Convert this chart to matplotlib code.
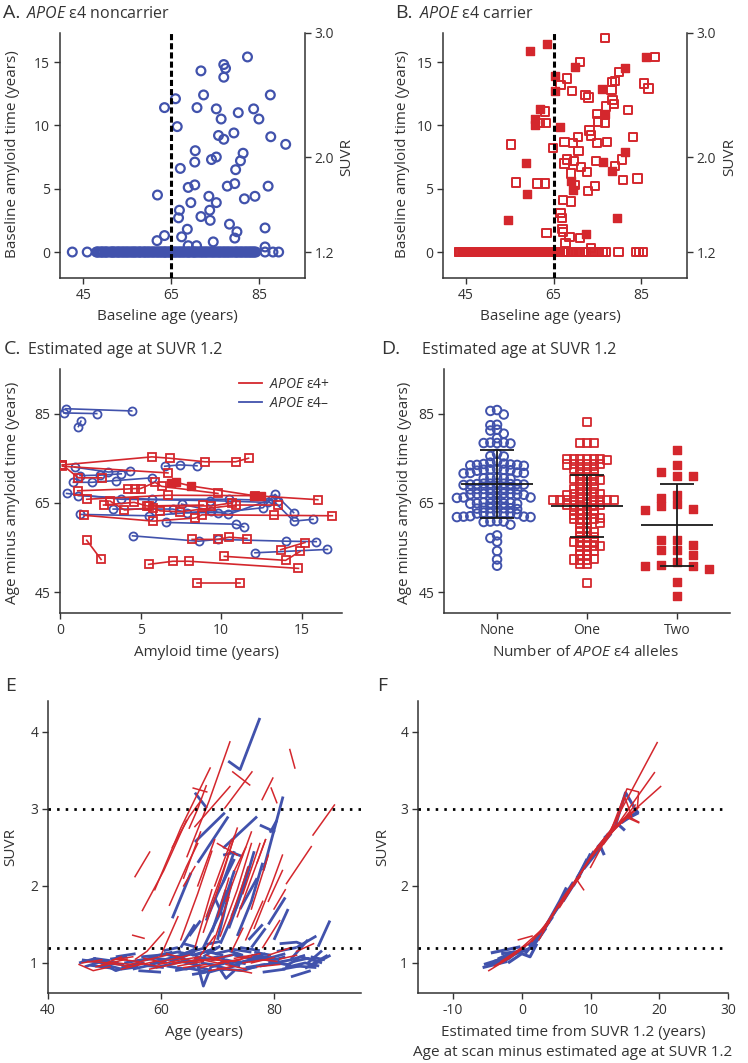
import numpy as np
import matplotlib
matplotlib.use("Agg")
import matplotlib.pyplot as plt
from matplotlib.lines import Line2D

plt.rcParams['font.family'] = ['Open Sans', 'DejaVu Sans']
plt.rcParams['mathtext.fontset'] = 'custom'
plt.rcParams['mathtext.rm'] = 'Open Sans'
plt.rcParams['mathtext.it'] = 'Open Sans:italic'
plt.rcParams['axes.unicode_minus'] = False

TXT = '#333333'
BLUE = '#4152AC'
RED = '#D4272D'
W, H = 748, 1063

# ---------------- data ----------------
# A: APOE e4 noncarriers, baseline age vs baseline amyloid time
a_age = [82.4, 71.8, 77.0, 77.4, 77.0, 72.4, 66.0, 87.6, 63.5, 70.9, 75.3, 83.8, 80.3, 76.4, 85.0,
         66.4, 79.3, 75.8, 77.0, 87.7, 91.1, 70.5, 81.4, 75.3, 74.2, 80.8, 70.4, 67.1, 79.7, 68.9,
         70.4, 77.8, 79.5, 87.1, 61.9, 73.6, 84.1, 81.7, 69.5, 75.3, 66.9, 73.8, 66.7, 71.8, 73.9,
         78.3, 68.7, 86.4, 80.0, 63.5, 67.4, 61.8, 79.5, 74.6, 68.9, 70.8, 86.4]
a_time = [15.4, 14.3, 14.8, 14.5, 13.8, 12.4, 12.1, 12.4, 11.4, 11.4, 11.3, 11.3, 11.0, 10.5, 10.5,
          9.9, 9.4, 9.2, 8.9, 9.1, 8.5, 8.0, 7.8, 7.5, 7.3, 7.2, 7.1, 6.6, 6.5, 5.1,
          5.3, 5.2, 5.4, 5.2, 4.5, 4.4, 4.4, 4.2, 3.9, 3.9, 3.3, 3.3, 2.7, 2.8, 2.5,
          2.2, 1.8, 1.9, 1.6, 1.3, 1.2, 0.9, 1.1, 0.8, 0.5, 0.5, 0.4]
a_zero_age = [42.5, 45.9, 48.0, 48.4, 49.1, 49.5, 50.3, 50.6, 51.4, 51.8, 52.3, 53.1, 53.4, 54.2,
              54.5, 55.3, 55.6, 56.4, 56.9, 57.2, 58.0, 58.3, 59.1, 59.4, 60.2, 60.5, 61.3, 61.6,
              62.4, 62.7, 63.2, 63.8, 64.1, 64.9, 65.2, 65.8, 66.3, 66.6, 67.4, 67.7, 68.5, 68.8,
              69.2, 69.9, 70.3, 70.8, 71.4, 71.7, 72.5, 72.8, 73.3, 73.9, 74.2, 75.0, 75.3, 75.9,
              76.4, 76.7, 77.5, 77.8, 78.3, 78.9, 79.2, 80.0, 80.3, 80.9, 81.4, 81.7, 82.5, 82.8,
              83.3, 83.8, 84.3, 86.4, 88.2, 89.5,
              48.2, 48.8, 49.3, 49.9, 50.1, 51.1, 51.6, 52.0, 52.7, 52.9, 53.7, 54.0, 54.8, 55.0,
              55.9, 56.2, 56.7, 57.6, 57.8, 58.7, 58.9, 59.7, 59.9, 60.8, 61.0, 61.9, 62.1, 62.9,
              63.5, 63.6, 64.4, 64.6, 65.5, 66.0, 66.9, 67.1, 67.9, 68.2, 69.0, 69.5, 70.1, 70.5,
              71.1, 72.0, 72.2, 73.0, 73.6, 74.5, 74.7, 75.6, 76.1, 77.0, 77.2, 78.0, 78.6, 79.6,
              79.8, 80.6, 81.1, 82.0, 82.2, 83.0, 83.5, 84.0]

# B: APOE e4 carriers (filled = two alleles)
b_fill_age = [63.5, 59.7, 86.2, 69.9, 81.3, 65.4, 65.4, 76.1, 61.9, 76.7, 60.7, 60.7, 66.4, 58.6,
              81.3, 76.4, 78.4, 68.9, 69.5, 58.9, 54.6, 79.5, 72.4]
b_fill_time = [16.4, 15.9, 15.4, 14.6, 14.5, 13.9, 12.7, 12.9, 11.3, 10.9, 10.5, 10.0, 9.9, 7.0,
               7.9, 7.1, 6.4, 5.6, 4.9, 4.6, 2.5, 2.7, 1.4]
b_open_age = [76.8, 88.2, 71.1, 68.1, 66.6, 69.2, 72.3, 73.0, 78.3, 79.1, 80.0, 85.6, 86.7, 78.2,
              78.5, 78.8, 77.0, 82.0, 74.9, 75.1, 76.7, 63.0, 63.3, 61.8, 55.2, 64.9, 67.5, 69.5,
              70.5, 70.7, 73.2, 73.6, 74.9, 77.2, 83.1, 68.1, 67.5, 69.6, 71.3, 74.7, 72.7, 69.0,
              79.1, 80.7, 80.9, 84.2, 56.4, 61.3, 63.0, 69.9, 74.4, 72.8, 67.2, 69.0, 66.6, 66.9,
              67.0, 67.2, 63.4, 68.6, 67.7, 71.1, 73.6]
b_open_time = [16.9, 15.4, 15.0, 13.7, 13.2, 12.7, 12.4, 12.2, 13.4, 13.5, 14.2, 13.3, 12.9, 12.8,
               12.0, 11.7, 11.5, 11.2, 10.9, 10.3, 10.2, 11.1, 10.2, 10.2, 8.5, 8.2, 8.7, 8.6,
               9.1, 8.0, 9.6, 9.2, 8.6, 8.7, 9.1, 7.3, 7.0, 7.2, 6.7, 7.2, 6.3, 6.2,
               6.8, 7.3, 5.7, 5.8, 5.5, 5.4, 5.4, 5.3, 5.2, 4.8, 4.1, 4.0, 3.1, 2.7,
               1.8, 1.6, 1.5, 1.2, 0.7, 1.1, 0.3]
b_zero_age = [43.3, 43.7, 44.1, 44.6, 45.0, 45.3, 45.8, 46.1, 46.4, 47.0, 47.3, 47.7, 48.1, 48.6,
              48.9, 49.4, 49.7, 50.3, 50.6, 50.9, 51.2, 51.8, 52.1, 52.5, 52.9, 53.4, 53.7, 54.0,
              54.3, 54.8, 55.1, 55.5, 56.0, 56.3, 56.6, 57.1, 57.5, 57.8, 58.2, 58.6, 59.1, 59.4,
              59.8, 60.2, 60.7, 61.0, 61.3, 61.6, 62.0, 62.4, 62.8, 63.3, 63.6, 63.9, 64.2, 64.8,
              65.2, 65.9, 66.5, 67.0, 67.6, 68.3, 68.9, 69.4, 70.2, 71.0, 71.6, 72.3, 73.0, 73.9,
              74.6, 75.4, 76.2, 77.0, 79.8, 83.8, 84.5, 85.5,
              43.5, 44.3, 44.8, 45.6, 46.7, 47.5, 48.3, 49.1, 49.9, 50.7, 51.5, 52.3, 53.1, 53.9,
              54.6, 55.3, 56.1, 56.9, 57.7, 58.4, 59.2, 60.0, 60.5, 61.1, 61.8, 62.6, 63.1, 64.0,
              64.5, 65.5, 66.2, 67.3, 68.0, 69.1, 70.6, 72.0]
suvr_tick_time = [0, 7.5, 17.29]
suvr_tick_label = ['1.2', '2.0', '3.0']

# C: amyloid time vs age minus amyloid time, per participant
c_blue_t = [[0.35, 4.45], [0.25, 2.28], [1.14, 1.30], [0.9, 3.0, 4.35], [1.24, 2.5, 3.8],
            [6.5, 7.45, 8.5], [0.83, 1.97, 3.5, 5.7], [0.41, 3.8, 9.3, 12.9],
            [1.14, 5.7, 10.5, 13.5], [1.24, 5.5, 9.4],
            [3.3, 7.0, 7.9, 9.8, 12.6, 13.35, 14.5], [6.6, 10.9, 11.4],
            [7.55, 10.45, 13.15, 14.5, 15.7], [4.5, 8.6, 9.8, 14.0, 15.9], [12.1, 16.6]]
c_blue_age = [[86.1, 85.6], [85.15, 85.0], [82.1, 83.3], [73.0, 71.9, 72.2], [71.1, 71.2, 71.5],
              [73.2, 73.5, 73.3], [69.6, 69.6, 70.0, 70.6], [67.1, 65.8, 65.5, 65.1],
              [66.6, 65.8, 65.8, 65.5], [62.4, 62.1, 63.2],
              [63.6, 63.6, 62.8, 62.8, 63.9, 66.9, 62.8], [60.6, 60.2, 59.6],
              [64.7, 62.4, 65.8, 60.9, 61.3], [57.6, 56.4, 56.8, 56.4, 56.3], [53.8, 54.55]]
c_red_t = [[0.15, 5.7, 6.8, 9.0, 10.9, 11.7], [0.15, 6.7], [0.15, 1.14, 2.6],
           [1.1, 4.2, 4.65, 5.0, 5.9, 6.3, 9.8], [1.66, 6.7, 12.1, 16.0],
           [2.7, 4.6, 5.4, 8.9], [3.1, 4.0, 5.8, 6.2, 7.45, 10.9, 13.5],
           [1.5, 5.8, 8.4, 8.8, 13.3, 16.9], [1.66, 2.55], [8.2, 9.8, 10.5, 11.6],
           [13.7, 15.2], [10.2, 14.0, 14.9], [5.5, 7.0, 8.0, 14.8], [8.5, 11.2],
           [5.5, 9.4, 10.7]]
c_red_age = [[73.5, 75.3, 75.0, 74.2, 74.2, 75.0], [73.2, 71.7], [73.5, 70.6, 70.6],
             [67.7, 68.1, 68.2, 68.2, 69.6, 68.7, 67.1], [65.8, 66.7, 66.6, 65.7],
             [64.5, 65.1, 64.3, 64.5], [65.4, 63.4, 63.9, 63.2, 63.0, 64.5, 64.5],
             [62.2, 60.9, 61.6, 62.3, 62.2, 62.1], [56.6, 52.3], [56.8, 56.8, 57.3, 57.0],
             [54.5, 56.1], [53.0, 52.1, 54.1], [51.2, 51.9, 51.9, 50.3], [47.0, 47.0],
             [64.3, 64.3, 65.0]]
c_two_t = [[6.9, 7.2, 8.1, 12.05, 12.5]]
c_two_age = [[69.4, 69.6, 68.8, 66.6, 66.6]]

# D: age minus amyloid time by number of APOE e4 alleles
d_groups = ['None', 'One', 'Two']
d_none = [85.8, 85.6, 84.8, 82.5, 82.4, 81.4, 81.2, 80.5, 79.5, 78.5, 78.4, 78.3, 78.5, 78.4,
          76.0, 75.5, 75.4, 74.2, 74.0, 73.8, 73.5, 73.6, 73.4, 73.5, 73.7, 73.3, 72.5, 72.4,
          72.3, 72.6, 72.2, 72.4, 71.7, 71.8, 71.6, 71.7, 70.6, 70.5, 70.4, 70.6, 70.5, 69.3,
          69.2, 69.1, 69.3, 69.2, 69.0, 69.4, 69.2, 69.1, 69.3, 68.2, 68.1, 68.0, 68.2, 68.1,
          68.3, 68.0, 68.1, 67.1, 67.0, 66.9, 67.2, 67.0, 66.8, 67.1, 67.0, 66.9, 66.2, 66.1,
          66.0, 66.2, 66.1, 66.0, 65.0, 64.9, 64.8, 65.1, 64.9, 65.0, 64.8, 64.9, 63.9, 63.8,
          63.7, 63.9, 63.8, 63.6, 63.8, 62.8, 62.7, 62.6, 62.8, 62.7, 62.5, 62.7, 61.9, 61.8,
          62.0, 61.9, 61.8, 60.8, 60.9, 60.7, 60.8, 60.1, 57.7, 57.1, 56.3, 54.2, 52.3, 50.9]
d_one = [83.1, 78.4, 78.5, 78.4, 74.8, 74.8, 74.9, 74.8, 74.7, 74.8, 74.9, 73.7, 73.6, 73.7,
         73.7, 73.8, 73.7, 72.6, 72.6, 72.5, 72.6, 71.5, 71.5, 71.4, 70.3, 70.3, 70.2, 70.3,
         70.4, 69.2, 69.2, 69.3, 68.0, 68.0, 68.1, 68.0, 66.9, 66.9, 66.8, 66.9, 67.0, 66.9,
         65.7, 65.7, 65.6, 65.7, 65.8, 65.7, 65.7, 65.6, 65.7, 65.8, 64.6, 64.6, 64.5, 64.6,
         64.7, 64.6, 63.5, 63.5, 63.6, 63.5, 62.4, 62.4, 62.3, 62.4, 61.4, 61.4, 61.5, 61.4,
         61.3, 60.4, 60.4, 60.5, 59.4, 59.4, 58.4, 58.4, 58.5, 57.3, 57.3, 57.4, 56.3, 56.3,
         56.2, 56.3, 55.3, 55.3, 55.4, 55.3, 54.3, 54.3, 54.2, 53.3, 53.3, 52.3, 52.3, 52.4,
         52.3, 51.3, 51.3, 47.1]
d_two = [76.9, 73.5, 72.0, 71.1, 71.1, 66.8, 66.1, 64.8, 64.3, 63.3, 63.6, 56.7, 56.7, 55.6,
         54.4, 54.4, 53.3, 50.9, 51.8, 51.1, 50.9, 50.2, 47.3, 44.2]
d_mean = [69.3, 64.3, 60.0]
d_upper = [76.8, 71.3, 69.2]
d_lower = [61.7, 57.4, 50.8]

# E: longitudinal SUVR by age
e_blue_age = [[46.0, 50.0, 53.5], [47.5, 51.5], [49.0, 52.0, 55.0], [51.0, 54.0], [53.0, 57.0],
              [55.5, 59.0, 61.5], [57.0, 60.5], [58.5, 62.5, 65.0], [60.0, 63.5], [61.0, 64.5, 67.0],
              [62.0, 66.0], [63.5, 66.5, 67.5, 69.0], [64.0, 68.0], [65.0, 68.5, 70.5], [66.0, 69.5],
              [67.0, 70.0, 71.5, 73.0], [68.0, 71.0], [69.0, 72.5, 75.0], [70.0, 73.5],
              [71.0, 74.5, 77.0], [72.5, 76.0], [73.5, 77.0, 80.0], [75.0, 78.5], [76.0, 80.0, 82.0],
              [77.5, 81.0], [79.0, 82.5, 84.5], [80.5, 84.0], [82.0, 85.5, 88.0], [83.0, 86.5],
              [84.5, 88.0], [85.5, 89.5], [86.0, 88.5], [78.0, 82.0], [74.0, 77.5],
              [60.5, 64.0, 66.5], [67.5, 70.5], [81.0, 84.0, 85.0], [56.0, 60.0], [65.5, 68.0],
              [70.5, 74.0],
              [45.5, 48.5], [46.5, 49.5, 52.5], [48.0, 51.0], [50.0, 53.0, 56.0], [52.0, 55.5],
              [53.5, 56.5, 59.5], [55.0, 58.0], [56.5, 59.5, 62.0], [58.0, 61.0], [59.0, 62.0, 64.5],
              [60.5, 63.0], [61.5, 64.0, 66.0], [62.5, 65.5], [63.0, 66.0, 68.5], [64.5, 67.0],
              [65.5, 68.0, 70.0], [66.5, 69.0], [67.5, 70.0, 72.0], [68.5, 71.5], [69.5, 72.0, 74.5],
              [70.5, 73.0], [71.5, 74.0, 76.5], [72.5, 75.0], [73.0, 76.0, 78.5], [74.5, 77.0],
              [75.5, 78.5, 81.0], [76.5, 79.5], [77.5, 80.5, 83.0], [79.0, 82.0], [80.0, 83.0, 85.5],
              [81.5, 84.5], [83.5, 86.0, 88.5], [84.0, 87.5], [86.5, 89.0], [87.0, 90.0],
              [64.0, 66.5], [68.0, 70.5],
              [71.9, 74.0, 77.5], [66.0, 68.1], [66.0, 71.3], [66.5, 71.9], [71.0, 77.0],
              [77.5, 80.2], [79.3, 80.5], [71.0, 72.7, 74.5], [62.0, 65.3], [68.0, 70.0, 73.0],
              [70.0, 72.5], [72.0, 74.5, 76.5], [78.1, 81.6], [79.0, 82.0], [87.8, 89.9],
              [83.0, 86.0], [69.5, 71.0], [74.0, 77.0], [65.0, 67.0], [75.5, 78.0],
              [67.5, 70.5, 73.0], [69.0, 71.5], [70.5, 73.5, 75.5], [72.5, 75.0], [73.5, 76.0, 78.0],
              [76.0, 78.5], [80.0, 82.5], [63.5, 66.0], [71.0, 73.0], [84.0, 87.5]]
e_blue_suvr = [[1.04, 1.00, 0.98], [0.97, 0.93], [1.02, 0.90, 0.97], [1.05, 1.08], [0.95, 1.00],
               [1.02, 1.06, 1.04], [0.97, 0.94], [1.00, 1.08, 1.12], [1.10, 1.15], [0.96, 0.92, 0.98],
               [1.05, 1.18], [1.02, 0.97, 0.70, 0.98], [1.12, 1.20], [0.93, 0.88, 0.92], [1.08, 1.04],
               [1.00, 0.97, 0.80, 0.90], [1.15, 1.10], [0.95, 1.02, 0.99], [1.06, 1.12],
               [0.92, 0.90, 0.96], [1.18, 1.14], [1.00, 1.06, 1.03], [0.94, 0.98], [1.10, 1.04, 1.08],
               [0.97, 1.00], [1.02, 0.98, 1.06], [1.15, 1.20], [0.94, 1.00, 0.96], [0.82, 0.90],
               [1.08, 1.02], [0.93, 1.10], [1.00, 1.16], [0.88, 0.92], [1.20, 1.16],
               [1.12, 1.05, 1.00], [1.08, 1.22], [1.25, 1.27, 1.24], [0.90, 0.88], [0.85, 0.88],
               [1.02, 0.96],
               [1.00, 1.06], [0.95, 1.02, 1.00], [1.06, 1.03], [0.98, 0.92, 0.95], [1.08, 1.12],
               [1.00, 1.04, 1.08], [0.92, 0.97], [1.08, 1.10, 1.14], [0.98, 1.02], [0.94, 0.99, 1.03],
               [1.16, 1.20], [1.02, 1.08, 1.15], [0.90, 0.94], [1.14, 1.10, 1.16], [1.00, 1.05],
               [1.10, 1.15, 1.20], [0.95, 0.90], [1.04, 1.08, 1.02], [0.98, 0.93], [1.12, 1.16, 1.10],
               [0.90, 0.96], [1.04, 1.00, 1.05], [0.96, 1.02], [1.10, 1.06, 1.12], [0.92, 0.95],
               [1.02, 1.08, 1.04], [1.14, 1.10], [0.96, 1.00, 0.97], [1.06, 1.12], [1.00, 1.04, 1.10],
               [0.92, 0.96], [1.02, 1.06, 1.00], [0.96, 0.94], [1.08, 1.04], [0.98, 1.10],
               [1.25, 1.20], [1.24, 1.28],
               [3.62, 3.51, 4.18], [3.21, 3.01], [2.57, 2.95], [2.30, 2.90], [2.49, 2.90],
               [2.79, 2.70], [2.69, 2.85], [2.40, 2.43, 2.38], [1.58, 2.17], [1.55, 1.90, 2.35],
               [1.30, 2.05], [1.45, 1.95, 2.45], [2.20, 3.16], [1.50, 1.85], [1.21, 1.55],
               [1.05, 1.30], [1.85, 1.60], [1.70, 2.10], [1.35, 1.55], [1.30, 1.50],
               [1.20, 1.65, 2.20], [1.40, 1.95], [1.25, 1.75, 2.25], [1.60, 2.05], [1.35, 1.80, 2.30],
               [1.20, 1.45], [1.30, 1.70], [1.20, 1.50], [2.05, 2.45], [1.20, 1.35]]
e_red_age = [[45.5, 48.0, 51.0], [47.0, 51.0, 54.0], [49.0, 53.0], [50.5, 54.5, 57.0], [52.0, 56.0],
             [54.0, 58.0, 61.0], [56.0, 60.0], [58.0, 62.0, 66.0], [60.0, 65.0], [62.0, 67.0, 70.0],
             [64.0, 68.0], [66.0, 70.0, 74.0], [68.0, 72.0], [70.0, 74.0, 76.0], [72.0, 76.0],
             [55.0, 57.0], [68.5, 72.5], [76.0, 80.0], [79.0, 83.0],
             [46.0, 49.5], [48.5, 52.0, 55.0], [51.5, 55.0], [53.0, 56.5, 59.0], [57.0, 61.0],
             [59.5, 63.5, 67.0], [61.0, 64.0], [63.0, 67.5], [65.5, 69.5, 72.5], [67.0, 71.0],
             [69.0, 73.0, 75.5], [71.5, 75.0], [73.0, 77.5], [74.5, 78.0, 80.5], [77.0, 81.0],
             [81.0, 84.0],
             [55.4, 58.0], [56.7, 60.5, 64.5], [58.9, 63.5, 68.7], [64.6, 68.5, 72.2], [65.7, 68.1],
             [65.0, 66.5, 68.0], [66.0, 72.2], [72.7, 75.7], [71.3, 76.1], [82.8, 83.7],
             [77.9, 79.8], [79.5, 80.5], [86.9, 90.7], [82.2, 86.6], [55.5, 57.5, 60.5],
             [60.0, 63.0], [63.5, 66.5, 69.0], [66.0, 69.0], [67.5, 70.5, 73.0], [69.0, 72.0],
             [70.5, 73.5, 76.0], [72.0, 75.5], [73.5, 76.5, 78.5], [75.0, 78.0], [76.5, 79.5, 81.5],
             [78.0, 81.0], [80.0, 82.0], [69.5, 71.0, 72.5], [64.0, 66.0], [84.0, 87.0],
             [70.0, 73.5], [61.5, 64.5, 66.5],
             [62.0, 65.0, 67.0], [64.0, 67.0], [66.5, 69.5], [68.0, 71.0, 73.5], [70.0, 72.0],
             [71.5, 74.0, 76.0], [73.0, 75.0], [74.5, 77.5], [76.0, 79.0], [77.0, 78.5],
             [79.0, 81.5], [67.0, 69.5], [72.5, 74.5]]
e_red_suvr = [[0.98, 0.90, 0.95], [1.02, 1.00, 1.05], [0.96, 1.08], [1.00, 0.95, 1.00], [1.05, 1.02],
              [0.97, 1.05, 1.10], [1.00, 0.95], [0.92, 0.98, 1.04], [1.02, 1.10], [1.00, 1.03, 1.05],
              [0.94, 0.98], [1.06, 1.00, 1.04], [1.10, 1.00], [0.93, 0.90, 0.87], [1.02, 1.08],
              [1.36, 1.32], [0.90, 0.95], [1.00, 1.07], [1.10, 1.20],
              [1.00, 1.04], [0.95, 1.00, 0.98], [1.04, 1.08], [0.92, 0.98, 1.02], [1.06, 1.00],
              [0.98, 1.04, 1.08], [1.12, 1.06], [0.96, 1.02], [1.02, 1.06, 1.10], [0.94, 1.00],
              [1.04, 1.02, 1.08], [0.98, 0.92], [1.06, 1.12], [1.00, 1.04, 1.02], [0.95, 0.98],
              [1.05, 1.10],
              [2.12, 2.44], [1.68, 2.20, 2.85], [1.95, 2.75, 3.53], [2.38, 3.10, 3.87], [3.27, 3.22],
              [2.75, 3.00, 3.30], [2.77, 3.29], [3.48, 3.31], [3.01, 3.48], [3.77, 3.53],
              [3.12, 3.40], [3.27, 3.08], [2.66, 3.05], [2.03, 2.51], [1.05, 1.15, 1.40],
              [1.10, 1.60], [1.30, 1.90, 2.45], [1.20, 1.95], [1.40, 2.05, 2.65], [1.20, 1.85],
              [1.35, 1.95, 2.55], [1.50, 2.25], [1.60, 2.20, 2.60], [1.30, 1.80], [1.45, 2.00, 2.40],
              [1.20, 1.55], [1.70, 1.95], [2.00, 2.30, 2.60], [2.00, 2.25], [1.15, 1.25],
              [2.55, 2.40], [1.75, 2.25, 2.55],
              [2.50, 2.90, 3.10], [2.10, 2.70], [2.00, 2.60], [1.60, 2.20, 2.75], [1.60, 2.10],
              [1.80, 2.30, 2.70], [2.20, 2.50], [1.90, 2.55], [1.70, 2.40], [2.30, 2.60],
              [1.80, 2.20], [1.10, 1.35], [1.15, 1.45]]

# F: SUVR by estimated time from SUVR 1.2
f_blue_t = [[-5.7, -2.1], [-4.5, -0.2], [-5.0, -2.0, 0.5], [-2.0, 0.0, 1.2, 2.2], [-3.5, -1.0],
            [0.5, 2.5, 4.5], [1.5, 3.5], [3.0, 5.5, 6.5], [4.5, 7.0], [6.0, 8.5, 10.0], [7.5, 9.5],
            [9.0, 11.5, 12.0], [10.5, 13.0], [12.0, 14.0, 15.0], [13.5, 15.1, 16.8], [14.5, 17.0],
            [2.0, 4.0], [-1.5, 1.5], [-5.5, -3.0], [-4.0, -1.5, 0.5], [-3.0, 0.5], [1.0, 3.0],
            [2.5, 4.5, 6.0], [5.0, 7.5], [8.0, 10.5], [11.0, 13.5], [15.0, 17.0]]
f_blue_suvr = [[0.94, 1.02], [1.13, 1.21], [0.97, 1.05, 1.22], [1.00, 1.12, 1.08, 1.25], [1.05, 1.15],
               [1.12, 1.35, 1.60], [1.20, 1.45], [1.40, 1.80, 1.98], [1.62, 1.95], [1.80, 2.15, 2.42],
               [2.00, 2.35], [2.22, 2.50, 2.40], [2.42, 2.68], [2.62, 2.80, 2.72], [2.75, 3.21, 2.95],
               [2.82, 2.97], [1.28, 1.55], [1.10, 1.20], [0.98, 1.05], [1.02, 1.10, 1.18],
               [1.12, 1.16], [1.22, 1.40], [1.32, 1.62, 1.85], [1.70, 2.05], [2.10, 2.45],
               [2.50, 2.75], [2.86, 2.95]]
f_red_t = [[-4.8, -1.5, 1.0], [-3.0, 0.0], [0.0, 2.0, 4.0], [-0.5, 1.5], [2.5, 5.0, 7.0], [4.0, 6.5],
           [5.5, 8.0, 9.0], [7.0, 9.5], [8.5, 11.0, 12.5], [10.0, 19.7], [11.9, 19.3], [12.4, 20.2],
           [12.8, 15.3, 17.0, 16.8], [13.0, 15.5, 17.0], [14.0, 16.5], [9.5, 12.0], [3.0, 5.5],
           [6.5, 8.5], [13.5, 15.0, 16.0], [-4.0, -1.0], [-2.0, 1.0, 3.0], [1.5, 4.5],
           [3.5, 6.0, 8.0], [6.0, 9.0], [8.0, 10.0, 12.0], [10.5, 13.5], [11.5, 14.5, 16.5],
           [14.5, 17.0], [15.5, 17.0]]
f_red_suvr = [[0.90, 1.08, 1.25], [1.02, 1.20], [1.20, 1.36, 1.52], [1.30, 1.35], [1.30, 1.70, 1.95],
              [1.55, 1.90], [1.72, 2.08, 1.95], [1.95, 2.30], [2.15, 2.50, 2.65], [2.24, 3.86],
              [2.54, 3.47], [2.67, 3.29], [2.68, 3.26, 3.22, 3.00], [2.70, 2.90, 2.83], [2.78, 3.05],
              [2.30, 2.58], [1.40, 1.78], [1.88, 2.12], [2.75, 3.15, 2.90], [0.96, 1.12],
              [1.05, 1.25, 1.42], [1.28, 1.62], [1.50, 1.85, 2.10], [1.82, 2.22], [2.08, 2.38, 2.62],
              [2.45, 2.78], [2.55, 2.82, 2.98], [2.85, 3.02], [2.88, 2.82]]


# ---------------- helpers ----------------
def rect(l, t, r, b):
    return [l / W, 1 - b / H, (r - l) / W, (b - t) / H]


def style(ax):
    for s in ['top', 'right']:
        ax.spines[s].set_visible(False)
    for s in ['left', 'bottom']:
        ax.spines[s].set_color(TXT)
        ax.spines[s].set_linewidth(1.1)
    ax.tick_params(colors=TXT, labelsize=10, length=4, width=1, pad=3)


def ftext(x, y, s, **kw):
    kw.setdefault('fontsize', 11)
    kw.setdefault('color', TXT)
    kw.setdefault('ha', 'center')
    kw.setdefault('va', 'center')
    fig.text(x / W, 1 - y / H, s, **kw)


def title(xl, xt, y, letter, text=None):
    ftext(xl, y, letter, fontsize=14, ha='left', va='baseline')
    if text:
        ftext(xt, y, text, fontsize=11.5, ha='left', va='baseline')


def swarm_x(vals, center, col_px, gap_px, ppu_x, ppu_y):
    order = sorted(range(len(vals)), key=lambda i: -vals[i])
    placed = []
    xs = np.zeros(len(vals))
    for i in order:
        y = vals[i] * ppu_y
        for k in range(80):
            c = (k + 1) // 2 * (-1 if k % 2 else 1)
            if all(pc != c or abs(py - y) >= gap_px for pc, py in placed):
                break
        placed.append((c, y))
        xs[i] = center + c * col_px / ppu_x
    return xs


fig = plt.figure(figsize=(W / 100, H / 100), dpi=100)
fig.patch.set_facecolor('white')

# ---------------- A & B ----------------
for key, l, r in [('A', 60, 305), ('B', 443, 687)]:
    ax = fig.add_axes(rect(l, 33, r, 278))
    style(ax)
    if key == 'A':
        ax.scatter(a_age + a_zero_age, a_time + [0.0] * len(a_zero_age), s=40, marker='o',
                   facecolors='none', edgecolors=BLUE, linewidths=1.6, zorder=3)
    else:
        ax.scatter(b_zero_age + b_open_age, [0.0] * len(b_zero_age) + b_open_time, s=36, marker='s',
                   facecolors='none', edgecolors=RED, linewidths=1.4, zorder=3)
        ax.scatter(b_fill_age, b_fill_time, s=40, marker='s', facecolors=RED,
                   edgecolors=RED, linewidths=1.0, zorder=4)
    ax.axvline(65, color='black', lw=2.2, linestyle=(0, (2, 1)), zorder=5)
    ax.set_xlim(39.7, 95.5)
    ax.set_ylim(-2.05, 17.29)
    ax.set_xticks([45, 65, 85])
    ax.set_yticks([0, 5, 10, 15])
    ax2 = ax.twinx()
    ax2.set_ylim(ax.get_ylim())
    for s in ['top', 'left', 'bottom']:
        ax2.spines[s].set_visible(False)
    ax2.spines['right'].set_color(TXT)
    ax2.spines['right'].set_linewidth(1.1)
    ax2.tick_params(colors=TXT, labelsize=10, length=4, width=1, pad=3)
    ax2.set_yticks(suvr_tick_time)
    ax2.set_yticklabels(suvr_tick_label)

title(3, 26, 18, 'A.', r'$\mathit{APOE}$ ε4 noncarrier')
title(395, 419, 18, 'B.', r'$\mathit{APOE}$ ε4 carrier')
ftext(167, 316, 'Baseline age (years)')
ftext(550, 316, 'Baseline age (years)')
ftext(13, 154, 'Baseline amyloid time (years)', rotation=90)
ftext(402, 154, 'Baseline amyloid time (years)', rotation=90)
ftext(347, 157, 'SUVR', rotation=90)
ftext(730, 157, 'SUVR', rotation=90)

# ---------------- C ----------------
ax = fig.add_axes(rect(60, 369, 342, 613))
style(ax)
for t, a in zip(c_blue_t, c_blue_age):
    ax.plot(t, a, color=BLUE, lw=1.2, marker='o', ms=5.8, mfc='none', mew=1.3, zorder=3)
for t, a in zip(c_red_t, c_red_age):
    ax.plot(t, a, color=RED, lw=1.2, marker='s', ms=5.4, mfc='none', mew=1.3, zorder=4)
for t, a in zip(c_two_t, c_two_age):
    ax.plot(t, a, color=RED, lw=1.2, marker='s', ms=5.6, mfc=RED, mew=1.0, zorder=4)
ax.set_xlim(0, 17.5)
ax.set_ylim(40.3, 95.0)
ax.set_xticks([0, 5, 10, 15])
ax.set_yticks([45, 65, 85])
handles = [Line2D([], [], color=RED, lw=1.3), Line2D([], [], color=BLUE, lw=1.3)]
ax.legend(handles, [r'$\mathit{APOE}$ ε4+', r'$\mathit{APOE}$ ε4–'], loc='upper right',
          bbox_to_anchor=(1.0, 1.02), frameon=False, fontsize=10, handlelength=1.6,
          handletextpad=0.5, labelspacing=0.3, labelcolor=TXT)
title(4, 28, 354, 'C.', 'Estimated age at SUVR 1.2')
ftext(206, 653, 'Amyloid time (years)')
ftext(13, 493, 'Age minus amyloid time (years)', rotation=90)

# ---------------- D ----------------
ax = fig.add_axes(rect(444, 369, 730, 613))
style(ax)
ppx, ppy = 90.0, 4.45
xn = swarm_x(d_none, 0, 6.7, 4.5, ppx, ppy)
xo = swarm_x(d_one, 1, 6.7, 4.2, ppx, ppy)
xt = swarm_x(d_two, 2, 15.8, 8.0, ppx, ppy)
ax.scatter(xn, d_none, s=38, marker='o', facecolors='none', edgecolors=BLUE, linewidths=1.4, zorder=3)
ax.scatter(xo, d_one, s=34, marker='s', facecolors='none', edgecolors=RED, linewidths=1.3, zorder=3)
ax.scatter(xt, d_two, s=40, marker='s', facecolors=RED, edgecolors=RED, linewidths=1.0, zorder=3)
for i in range(3):
    ax.hlines(d_mean[i], i - 0.4, i + 0.4, color='#1a1a1a', lw=1.3, zorder=5)
    ax.hlines([d_upper[i], d_lower[i]], i - 0.19, i + 0.19, color='#1a1a1a', lw=1.3, zorder=5)
    ax.vlines(i, d_lower[i], d_upper[i], color='#1a1a1a', lw=1.3, zorder=5)
ax.set_xlim(-0.59, 2.59)
ax.set_ylim(40.3, 95.0)
ax.set_xticks([0, 1, 2])
ax.set_xticklabels(d_groups)
ax.set_yticks([45, 65, 85])
title(381, 422, 354, 'D.', 'Estimated age at SUVR 1.2')
ftext(586, 653, r'Number of $\mathit{APOE}$ ε4 alleles')
ftext(404, 493, 'Age minus amyloid time (years)', rotation=90)

# ---------------- E ----------------
ax = fig.add_axes(rect(48, 701, 361, 993))
style(ax)
for a, s in zip(e_blue_age, e_blue_suvr):
    ax.plot(a, s, color=BLUE, lw=2.0, solid_capstyle='butt', zorder=2)
for a, s in zip(e_red_age, e_red_suvr):
    ax.plot(a, s, color=RED, lw=1.1, zorder=3)
for yv in [1.2, 3.0]:
    ax.axhline(yv, color='black', lw=2.0, linestyle=(0, (0.9, 2.2)), zorder=4)
ax.set_xlim(40, 95.4)
ax.set_ylim(0.61, 4.4)
ax.set_xticks([40, 60, 80])
ax.set_yticks([1, 2, 3, 4])
title(5, 0, 691, 'E')
ftext(204, 1033, 'Age (years)')
ftext(11, 847, 'SUVR', rotation=90)

# ---------------- F ----------------
ax = fig.add_axes(rect(418, 701, 728, 993))
style(ax)
for t, s in zip(f_blue_t, f_blue_suvr):
    ax.plot(t, s, color=BLUE, lw=2.2, solid_capstyle='butt', zorder=2)
for t, s in zip(f_red_t, f_red_suvr):
    ax.plot(t, s, color=RED, lw=1.1, zorder=3)
for yv in [1.2, 3.0]:
    ax.axhline(yv, color='black', lw=2.0, linestyle=(0, (0.9, 2.2)), zorder=4)
ax.set_xlim(-15.1, 30)
ax.set_ylim(0.61, 4.4)
ax.set_xticks([-10, 0, 10, 20, 30])
ax.set_yticks([1, 2, 3, 4])
title(377, 0, 691, 'F')
ftext(573, 1033, 'Estimated time from SUVR 1.2 (years)')
ftext(573, 1052, 'Age at scan minus estimated age at SUVR 1.2')
ftext(383, 847, 'SUVR', rotation=90)

fig.savefig('out.png', dpi=100, facecolor='white')
